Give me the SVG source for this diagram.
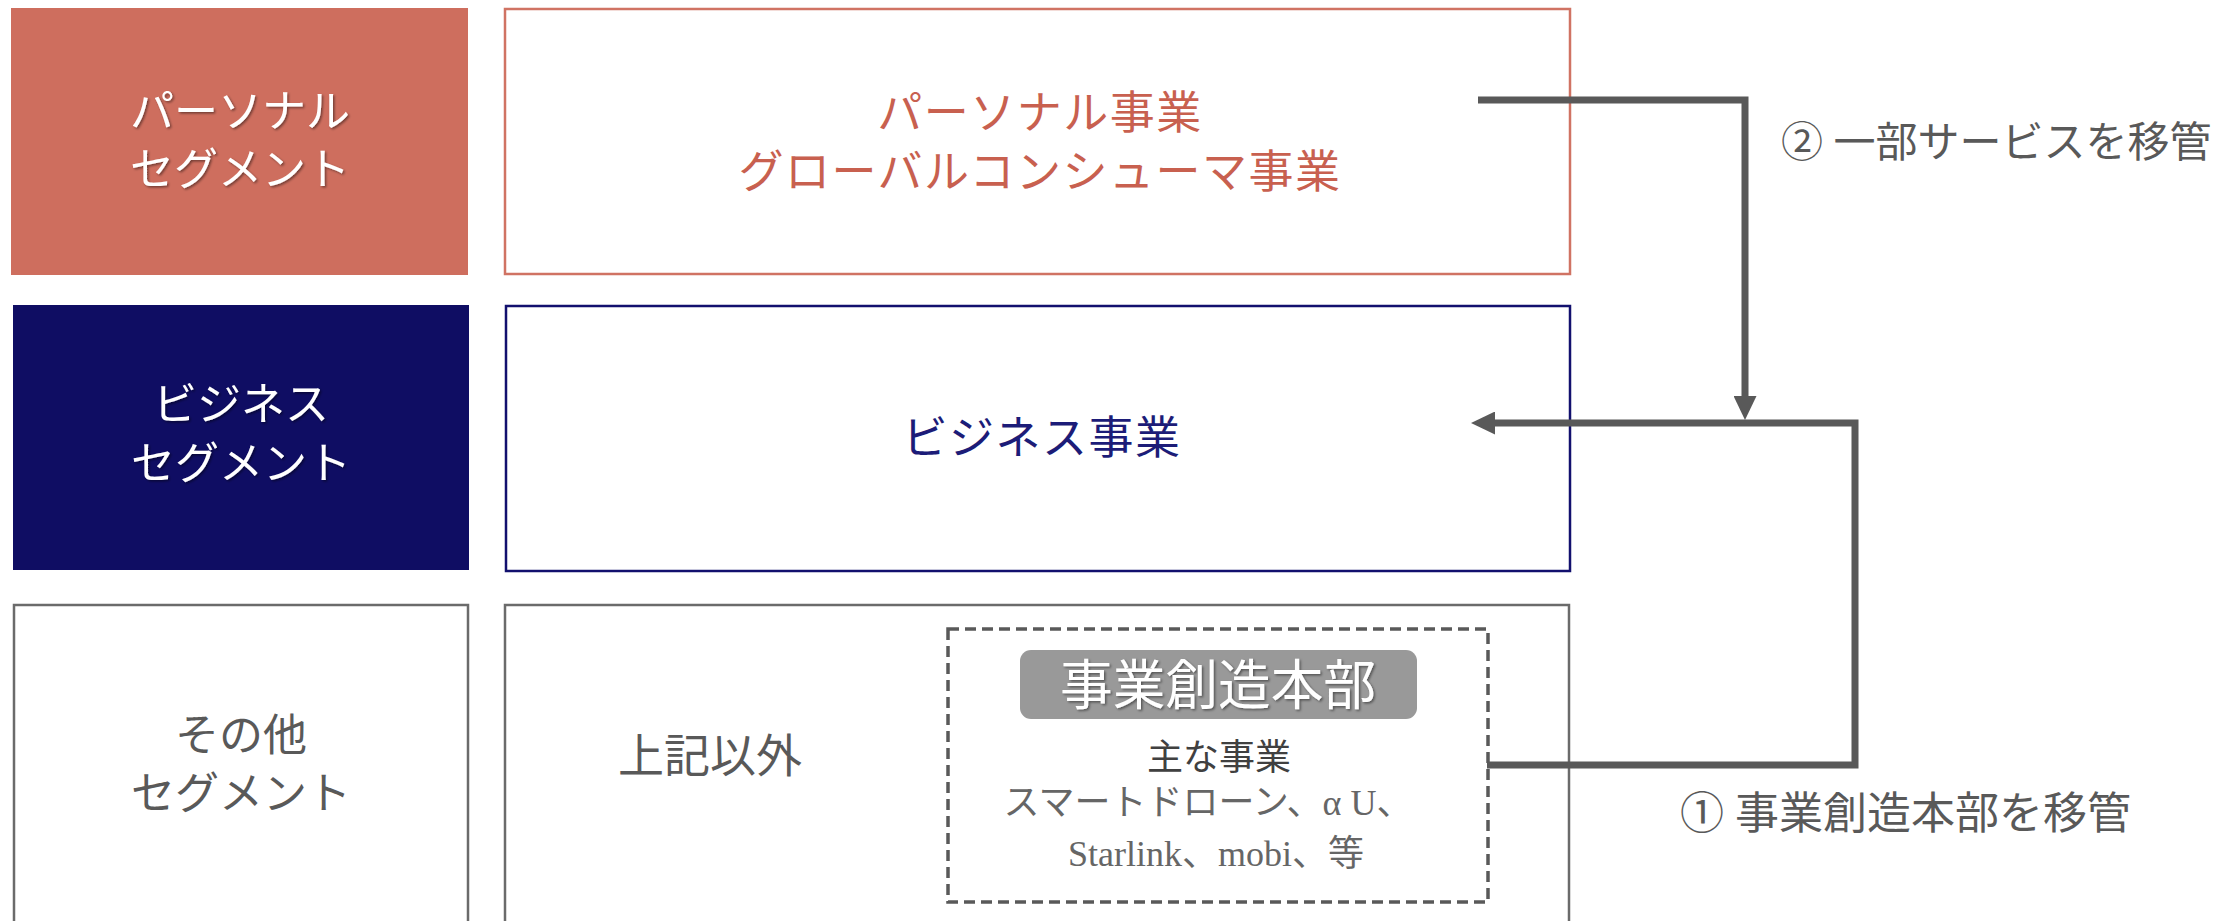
<svg xmlns="http://www.w3.org/2000/svg" width="2224" height="921" viewBox="0 0 2224 921">
  <style>
    .jp { font-family: "Noto Sans CJK JP", sans-serif; }
    .mix { font-family: "Liberation Serif", "Noto Sans CJK JP", serif; }
    .seg { font-size: 44px; fill: #ffffff; text-anchor: middle; filter: url(#shadow); }
    .biz { font-size: 45px; text-anchor: middle; letter-spacing: 1.5px; }
    .conn { fill: none; stroke: #595959; stroke-width: 7; stroke-linejoin: miter; }
    .lbl { fill: #595959; }
  </style>
  <defs>
    <filter id="shadow" x="-10%" y="-10%" width="120%" height="130%">
      <feDropShadow dx="1.5" dy="1.5" stdDeviation="1" flood-color="#000000" flood-opacity="0.45"/>
    </filter>
    <marker id="arrow" markerUnits="userSpaceOnUse" markerWidth="24" markerHeight="23" refX="8" refY="11.5" orient="auto">
      <path d="M0,0 L24,11.5 L0,23 z" fill="#595959"/>
    </marker>
  </defs>

  <rect x="0" y="0" width="2224" height="921" fill="#ffffff"/>

  <g id="personal-segment">
    <rect x="11" y="8" width="457" height="267" fill="#CE6E5E"/>
    <text class="jp seg" x="240" y="127">パーソナル</text>
    <text class="jp seg" x="240" y="185">セグメント</text>
  </g>

  <g id="personal-business">
    <rect x="505" y="9" width="1065" height="265" fill="none" stroke="#D07363" stroke-width="2.5"/>
    <text class="jp biz" x="1040" y="129" fill="#C8604F">パーソナル事業</text>
    <text class="jp biz" x="1040" y="188" fill="#C8604F">グローバルコンシューマ事業</text>
  </g>

  <g id="business-segment">
    <rect x="13" y="305" width="456" height="265" fill="#0F0D63"/>
    <text class="jp seg" x="241" y="420">ビジネス</text>
    <text class="jp seg" x="241" y="479">セグメント</text>
  </g>

  <g id="business">
    <rect x="506" y="306" width="1064" height="265" fill="none" stroke="#12106E" stroke-width="2.5"/>
    <text class="jp biz" x="1042" y="454" fill="#1C1C78">ビジネス事業</text>
  </g>

  <g id="other-segment">
    <rect x="14" y="605" width="454" height="340" fill="none" stroke="#6B6B6B" stroke-width="2.5"/>
    <text class="jp" x="241" y="751" font-size="44" fill="#595959" text-anchor="middle">その他</text>
    <text class="jp" x="241" y="809" font-size="44" fill="#595959" text-anchor="middle">セグメント</text>
  </g>

  <g id="other">
    <rect x="505" y="605" width="1064" height="340" fill="none" stroke="#6B6B6B" stroke-width="2.5"/>
    <text class="jp" x="618" y="772" font-size="46" fill="#595959">上記以外</text>
  </g>

  <g id="business-creation">
    <rect x="948" y="629" width="540" height="273" fill="none" stroke="#595959" stroke-width="3.5" stroke-dasharray="11 6"/>
    <rect x="1020" y="650" width="397" height="69" rx="11" ry="11" fill="#999999"/>
    <text class="jp" x="1218" y="705" font-size="54" fill="#ffffff" text-anchor="middle" filter="url(#shadow)" textLength="316" lengthAdjust="spacingAndGlyphs">事業創造本部</text>
    <text class="jp" x="1219" y="770" font-size="36" fill="#404040" text-anchor="middle">主な事業</text>
    <text class="mix" x="1208" y="815" font-size="36" fill="#666666" text-anchor="middle">スマートドローン、α U、</text>
    <text class="mix" x="1216" y="866" font-size="36" fill="#666666" text-anchor="middle">Starlink、mobi、等</text>
  </g>

  <g id="connectors">
    <path class="conn" d="M1478,100 H1745 V404" marker-end="url(#arrow)"/>
    <path class="conn" d="M1487,765 H1855 V423 H1487" marker-end="url(#arrow)"/>
  </g>

  <g id="labels">
    <text class="mix lbl" x="1781" y="157" font-size="42">② 一部サービスを移管</text>
    <text class="mix lbl" x="1680" y="829" font-size="44">① 事業創造本部を移管</text>
  </g>
</svg>
